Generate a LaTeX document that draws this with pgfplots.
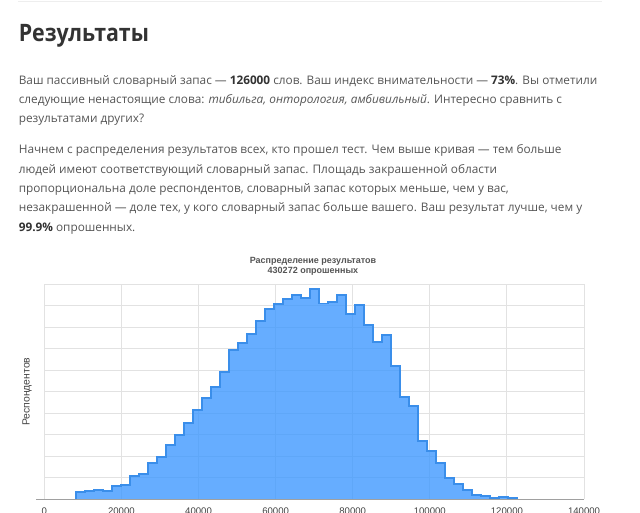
\documentclass[border=0pt]{standalone}
\usepackage{fontspec}
\setmainfont{Open Sans}
\newfontfamily\chartfont{Liberation Sans}
\IfFontExistsTF{Open Sans SemiBold}{\newfontfamily\headfont{Open Sans SemiBold}}{\newcommand\headfont{\bfseries}}
\usepackage{pgfplots}
\usepackage{pgfplotstable}
\pgfplotsset{compat=1.18}
\definecolor{txt}{HTML}{555555}
\definecolor{head}{HTML}{333333}
\definecolor{strong}{HTML}{333333}
\definecolor{fillblue}{HTML}{3B97FF}
\definecolor{lineblue}{HTML}{3A8EEA}
\definecolor{gridc}{HTML}{E2E2E2}
\definecolor{basec}{HTML}{A0A0A0}
\definecolor{ctitle}{HTML}{555555}
\definecolor{clabel}{HTML}{444444}
\definecolor{topline}{HTML}{EEEEEE}

\pgfplotstableread{
x y
8220 0
8220 0.33
10556 0.37
12892 0.42
15228 0.36
17564 0.59
19900 0.64
22236 1.09
24572 1.16
26908 1.68
29244 1.97
31580 2.52
33916 2.97
36252 3.54
38588 4.16
40924 4.69
43260 5.20
45596 5.93
47932 6.93
50268 7.27
52604 7.70
54940 8.28
57276 8.84
59612 9.10
61948 9.33
64284 9.50
66620 9.35
68956 9.80
71292 9.11
73628 9.18
75964 9.50
78300 8.60
80636 9.05
82972 8.12
85308 7.33
87644 7.66
89980 6.21
92316 4.75
94652 4.32
96988 2.72
99324 2.22
101660 1.68
103996 0.99
106332 0.71
108668 0.40
111004 0.20
113340 0.14
115676 0.06
118012 0.11
120348 0.06
122684 0.06
122684 0
}\hist

\newcommand\bodyfont{\fontsize{8.85pt}{14pt}\selectfont}
\newcommand\ctick{\chartfont\fontsize{7.2pt}{8.5pt}\selectfont}

\begin{document}
\begin{tikzpicture}
\path[use as bounding box] (0pt,0pt) rectangle (480pt,-384pt);
\fill[white] (0pt,0pt) rectangle (480pt,-384pt);
\draw[topline, line width=0.75pt] (13.5pt,-0.75pt) -- (451.5pt,-0.75pt);

\node[anchor=base west, inner sep=0pt, text=head, font=\headfont\fontsize{18pt}{22pt}\selectfont] at (13.9pt,-31.3pt) {\scalebox{0.89}[1]{Результаты}};

\begin{scope}[every node/.style={anchor=base west, inner sep=0pt, text=txt, font=\bodyfont}]
\node at (13.9pt,-63.0pt) {Ваш пассивный словарный запас — {\color{strong}\bfseries 126000} слов. Ваш индекс внимательности — {\color{strong}\bfseries 73\%}. Вы отметили};
\node at (13.9pt,-77.5pt) {следующие ненастоящие слова: \textit{тибильга, онторология, амбивильный}. Интересно сравнить с};
\node at (13.9pt,-92.0pt) {результатами других?};
\node at (13.9pt,-115.3pt) {Начнем с распределения результатов всех, кто прошел тест. Чем выше кривая — тем больше};
\node at (13.9pt,-129.75pt) {людей имеют соответствующий словарный запас. Площадь закрашенной области};
\node at (13.9pt,-144.2pt) {пропорциональна доле респондентов, словарный запас которых меньше, чем у вас,};
\node at (13.9pt,-158.7pt) {незакрашенной — доле тех, у кого словарный запас больше вашего. Ваш результат лучше, чем у};
\node at (13.9pt,-173.25pt) {{\color{strong}\bfseries 99.9\%} опрошенных.};
\end{scope}

\node[anchor=base, inner sep=0pt, text=ctitle, font=\chartfont\bfseries\fontsize{6.75pt}{8pt}\selectfont] at (234.75pt,-197.5pt) {Распределение результатов};
\node[anchor=base, inner sep=0pt, text=ctitle, font=\chartfont\bfseries\fontsize{6.75pt}{8pt}\selectfont] at (234.75pt,-205.3pt) {430272 опрошенных};

\node[rotate=90, inner sep=0pt, text=clabel, font=\chartfont\fontsize{7.8pt}{9pt}\selectfont] at (20.25pt,-293.8pt) {Респондентов};

\begin{axis}[
  at={(33.225pt,-374.25pt)}, anchor=south west,
  scale only axis, width=404.8pt, height=161pt,
  xmin=0, xmax=140000, ymin=0, ymax=10,
  axis line style={draw=none},
  xtick={0,20000,40000,60000,80000,100000,120000,140000},
  xticklabels={0,20000,40000,60000,80000,100000,120000,140000},
  scaled x ticks=false,
  ytick={0,1,2,3,4,5,6,7,8,9,10}, yticklabels={},
  xmajorgrids, ymajorgrids,
  grid style={gridc, line width=0.75pt},
  major tick length=0pt,
  xticklabel style={anchor=base, yshift=-11.4pt, font=\ctick, text=clabel},
  clip=false,
]
\addplot[const plot, draw=none, fill=fillblue, fill opacity=0.78] table[x=x,y=y]{\hist} \closedcycle;
\addplot[const plot, draw=lineblue, line width=1.4pt, line join=miter] table[x=x,y=y]{\hist};
\draw[basec, line width=0.75pt] (axis cs:-2100,0) -- (axis cs:140000,0);
\end{axis}
\end{tikzpicture}
\end{document}
